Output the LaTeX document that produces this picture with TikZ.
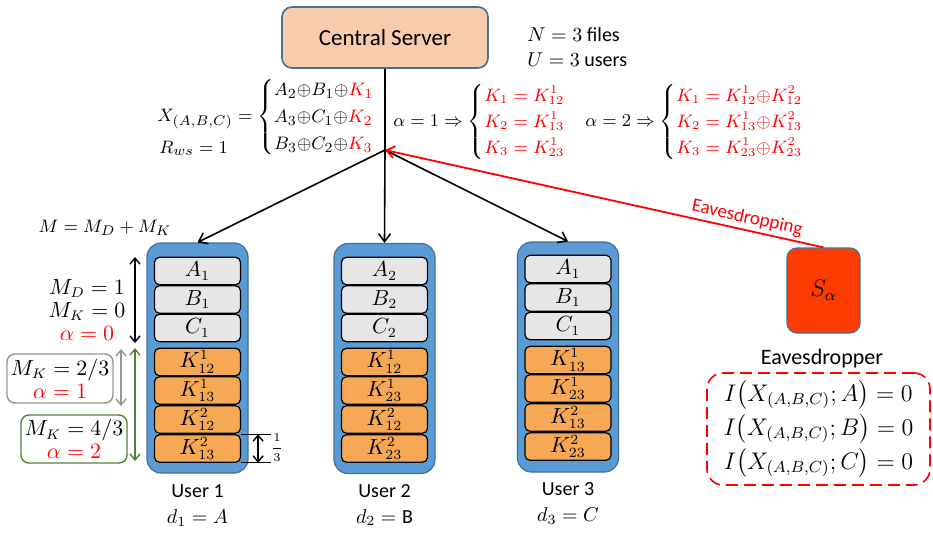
\documentclass[tikz,border=0pt]{standalone}
\usepackage{amsmath}
\usepackage{fontspec}
\setmainfont{Carlito}
\usetikzlibrary{arrows.meta, positioning, calc}
\definecolor{srvfill}{RGB}{248,203,173}
\definecolor{srvedge}{RGB}{65,113,156}
\definecolor{cachefill}{RGB}{91,155,213}
\definecolor{filefill}{RGB}{230,230,230}
\definecolor{keyfill}{RGB}{246,168,84}
\definecolor{evefill}{RGB}{255,60,0}
\definecolor{mgreen}{RGB}{84,130,53}
\definecolor{mgray}{RGB}{150,150,150}

\begin{document}
\begin{tikzpicture}[x=0.5pt,y=-0.5pt,
  server/.style={draw=srvedge,fill=srvfill,rounded corners=5pt,line width=0.8pt,
                 minimum width=103pt,minimum height=30.5pt,font=\fontsize{11.5}{13}\selectfont},
  cache/.style={draw=srvedge,fill=cachefill,rounded corners=7pt,line width=0.6pt,
                minimum width=50.5pt,minimum height=115pt},
  file/.style={draw,fill=filefill,rounded corners=2.5pt,line width=0.6pt,inner sep=0pt,
               minimum width=43pt,minimum height=13.75pt,font=\fontsize{10.5}{11}\selectfont},
  key/.style={file,fill=keyfill},
  eqn/.style={font=\fontsize{9.5}{11.2}\selectfont,inner sep=0pt},
  keqn/.style={font=\fontsize{9}{10.8}\selectfont,inner sep=0pt},
  lbl/.style={font=\fontsize{10}{12}\selectfont,align=center,inner sep=0pt},
  memo/.style={rounded corners=4pt,line width=0.7pt,minimum width=53pt,align=center,
               font=\fontsize{10.5}{11.5}\selectfont,inner sep=0pt},
  arr/.style={-{Straight Barb[length=4pt,width=6pt]},line width=0.8pt},
  spy/.style={-{Straight Barb[length=4pt,width=6pt]},red,line width=0.9pt},
  dim/.style={{Straight Barb[length=3pt,width=5pt]}-{Straight Barb[length=3pt,width=5pt]},line width=0.7pt}
]
\useasboundingbox (0,0) rectangle (933,532);

% server and broadcast
\node[server] (server) at (385,37.5) {Central Server};
\coordinate (hub) at (385,150);
\node[lbl,anchor=west,align=left] (param) at (527,47) {$N=3$ files\\[0.5pt]$U=3$ users};

\node[eqn,anchor=west] (xmsg) at (157,117) {$X_{(A,B,C)}=\begin{cases}
  A_2{\oplus}B_1{\oplus}\textcolor{red}{K_1}\\
  A_3{\oplus}C_1{\oplus}\textcolor{red}{K_2}\\
  B_3{\oplus}C_2{\oplus}\textcolor{red}{K_3}\end{cases}$};
\node[eqn,anchor=west] (rate) at (159,148) {$R_{ws}=1$};
\node[keqn,anchor=west] (alpha1) at (393,122) {$\alpha=1\Rightarrow\begin{cases}
  \color{red}K_1=K^1_{12}\\
  \color{red}K_2=K^1_{13}\\
  \color{red}K_3=K^1_{23}\end{cases}$};
\node[keqn,anchor=west] (alpha2) at (585,122) {$\alpha=2\Rightarrow\begin{cases}
  \color{red}K_1=K^1_{12}{\oplus}K^2_{12}\\
  \color{red}K_2=K^1_{13}{\oplus}K^2_{13}\\
  \color{red}K_3=K^1_{23}{\oplus}K^2_{23}\end{cases}$};

% user 1
\node[cache] (u1) at (197.5,358) {};
\node[file] (u1a) at (197.5,271)   {$A_1$};
\node[file] (u1b) at (197.5,299.5) {$B_1$};
\node[file] (u1c) at (197.5,328)   {$C_1$};
\node[key]  (u1k1) at (197.5,362)   {$K^1_{12}$};
\node[key]  (u1k2) at (197.5,390.5) {$K^1_{13}$};
\node[key]  (u1k3) at (197.5,419.5) {$K^2_{12}$};
\node[key]  (u1k4) at (197.5,448.5) {$K^2_{13}$};
\node[lbl] (u1lbl) at (197.5,506) {User 1\\[1pt]$d_1=A$};

% user 2
\node[cache] (u2) at (384.5,358.5) {};
\node[file] (u2a) at (384.5,271)   {$A_2$};
\node[file] (u2b) at (384.5,299.5) {$B_2$};
\node[file] (u2c) at (384.5,328)   {$C_2$};
\node[key]  (u2k1) at (384.5,362)   {$K^1_{12}$};
\node[key]  (u2k2) at (384.5,390.5) {$K^1_{23}$};
\node[key]  (u2k3) at (384.5,419.5) {$K^2_{12}$};
\node[key]  (u2k4) at (384.5,448.5) {$K^2_{23}$};
\node[lbl] (u2lbl) at (384.5,505) {User 2\\[1pt]$d_2=\mathrm{B}$};

% user 3
\node[cache] (u3) at (568,357) {};
\node[file] (u3a) at (568,269)   {$A_1$};
\node[file] (u3b) at (568,297.5) {$B_1$};
\node[file] (u3c) at (568,326)   {$C_1$};
\node[key]  (u3k1) at (568,360)   {$K^1_{13}$};
\node[key]  (u3k2) at (568,388.5) {$K^1_{23}$};
\node[key]  (u3k3) at (568,417.5) {$K^2_{13}$};
\node[key]  (u3k4) at (568,446.5) {$K^2_{23}$};
\node[lbl] (u3lbl) at (568,503) {User 3\\[1pt]$d_3=C$};

\draw[line width=0.8pt] (server.south) -- (hub);
\draw[arr] (hub) -- (u1.north);
\draw[arr] (hub) -- (u2.north);
\draw[arr] (hub) -- (u3.north);

% eavesdropper
\node[draw=srvedge,fill=evefill,rounded corners=5pt,line width=0.6pt,
      minimum width=36.5pt,minimum height=42.5pt,font=\fontsize{11.5}{13}\selectfont] (eve) at (823.5,290.5) {$S_\alpha$};
\draw[spy] (eve.north) -- (hub) node[pos=0.18,sloped,above,font=\fontsize{9.5}{11}\selectfont,inner sep=1.5pt] {Eavesdropping};
\node[font=\fontsize{11}{13}\selectfont] (evelbl) at (822,359) {Eavesdropper};
\node[draw=red,dash pattern=on 6pt off 3pt,rounded corners=8pt,line width=0.8pt,
      minimum width=111.5pt,minimum height=56pt,align=center,
      font=\fontsize{12}{17}\selectfont] (leak) at (818.5,429)
  {$I\bigl(X_{(A,B,C)};A\bigr)=0$\\$I\bigl(X_{(A,B,C)};B\bigr)=0$\\$I\bigl(X_{(A,B,C)};C\bigr)=0$};

% memory split on the left
\node[eqn] (msum) at (105,228) {$M=M_D+M_K$};
\node[memo] (m0) at (87,310) {$M_D=1$\\$M_K=0$\\\textcolor{red}{$\alpha=0$}};
\node[memo,draw=mgray,minimum height=24.5pt] (m1) at (60,378.5) {$M_K=2/3$\\\textcolor{red}{$\alpha=1$}};
\node[memo,draw=mgreen,minimum height=24pt] (m2) at (74,439) {$M_K=4/3$\\\textcolor{red}{$\alpha=2$}};

\coordinate (d0t) at (135,257);
\coordinate (d0b) at (135,343);
\coordinate (d1t) at (121,349);
\coordinate (d1b) at (121,406);
\coordinate (d2t) at (135,348);
\coordinate (d2b) at (135,461);
\draw[dim] (d0t) -- (d0b);
\draw[dim,mgray] (d1t) -- (d1b);
\draw[dim,mgreen] (d2t) -- (d2b);

% one third of a file
\draw[line width=0.6pt] (u1k4.north east) -- ++(30,0) coordinate (ft);
\draw[line width=0.6pt] (u1k4.south east) -- ++(30,0) coordinate (fb);
\draw[dim] ($(ft)+(-13,0)$) -- ($(fb)+(-13,0)$);
\node[font=\fontsize{6.5}{7}\selectfont,inner sep=0pt] (third) at (277,448) {$\displaystyle\frac{1}{3}$};
\end{tikzpicture}
\end{document}
